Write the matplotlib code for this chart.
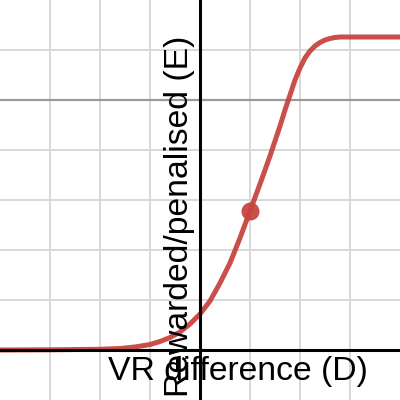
import matplotlib
matplotlib.use('Agg')
from matplotlib import pyplot as plt

# curve (x = VR difference, y = reward/penalty)
curve_x = [-4.0, -3.0, -2.0, -1.6, -1.3, -1.0, -0.8, -0.6, -0.4, -0.2, 0.0, 0.2, 0.4, 0.6,
           0.8, 1.0, 1.2, 1.4, 1.6, 1.7, 1.8, 1.9, 2.0, 2.1, 2.2, 2.3, 2.4,
           2.5, 2.6, 2.7, 2.8, 4.0]
curve_y = [0.0, 0.004, 0.014, 0.03, 0.06, 0.11, 0.17, 0.25, 0.36, 0.52, 0.72, 0.98, 1.34, 1.74,
           2.24, 2.78, 3.32, 3.88, 4.48, 4.80, 5.10, 5.40, 5.64, 5.84, 5.98, 6.08, 6.15,
           6.20, 6.23, 6.25, 6.26, 6.26]
point_x = [1.0]
point_y = [2.78]
ref_level = 5.0

x_label = 'VR difference (D)'
y_label = 'Rewarded/penalised (E)'

red = '#c74440'

fig = plt.figure(figsize=(4, 4), dpi=100)
ax = fig.add_axes([0, 0, 1, 1])
ax.set_xlim(-4, 4)
ax.set_ylim(-1, 7)
for s in ax.spines.values():
    s.set_visible(False)
ax.set_xticks([])
ax.set_yticks([])

for gx in range(-3, 4):
    ax.axvline(gx, color='#d8d8d8', lw=1.4, zorder=0)
for gy in range(0, 7):
    ax.axhline(gy, color='#d8d8d8', lw=1.4, zorder=0)
ax.axhline(ref_level, color='#9a9a9a', lw=1.6, zorder=1)

ax.plot(curve_x, curve_y, color=red, lw=3.6, alpha=0.95, solid_capstyle='round',
        solid_joinstyle='round', zorder=3)
ax.plot(point_x, point_y, 'o', color=red, ms=13, alpha=0.95, mec='none', zorder=4)

ax.axhline(0, color='black', lw=2.2, zorder=5)
ax.axvline(0, color='black', lw=2.2, zorder=5)

font = ['Liberation Sans', 'DejaVu Sans']
ax.text(-1.84, -0.6, x_label, fontsize=24.3, family=font, ha='left', va='baseline', zorder=6)
ax.text(-0.24, 2.68, y_label, fontsize=24.3, family=font, rotation=90,
        rotation_mode='anchor', ha='center', va='baseline', zorder=6)

fig.savefig('out.png', dpi=100)
